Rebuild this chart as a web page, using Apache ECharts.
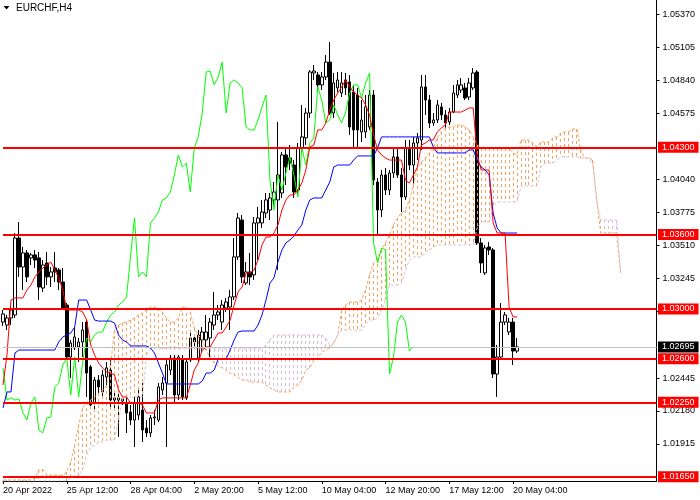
<!DOCTYPE html>
<html>
<head>
<meta charset="utf-8">
<script src="https://cdn.jsdelivr.net/npm/echarts@6/dist/echarts.min.js"></script>
<style>html,body{margin:0;padding:0;background:#fff}#c{width:700px;height:500px}</style>
</head>
<body>
<div id="c"></div>
<script>
// ---- data (EURCHF, H4) ----
const dateLabels = ['20 Apr 2022','25 Apr 12:00','28 Apr 04:00','2 May 20:00','5 May 12:00','10 May 04:00','12 May 20:00','17 May 12:00','20 May 04:00'];
const yTickValues = [1.05370,1.05105,1.04840,1.04575,1.04040,1.03775,1.03510,1.03245,1.02980,1.02445,1.02180,1.01915];
const levels = [1.04300,1.03600,1.03000,1.02600,1.02250,1.01650];
const lastPrice = 1.02695;
const chikouShift = 26;
const slotCount = 165;

// [open, close, low, high]
const ohlc = [
[1.02895,1.02960,1.02863,1.02992],[1.02871,1.02928,1.02831,1.02952],[1.02928,1.02992,1.02871,1.03032],[1.02952,1.03571,1.02928,1.03611],
[1.03571,1.03338,1.03258,1.03700],[1.03338,1.03451,1.03153,1.03499],[1.03451,1.03258,1.03217,1.03475],[1.03411,1.03435,1.03354,1.03451],
[1.03435,1.03394,1.03330,1.03475],[1.03411,1.03177,1.03072,1.03459],[1.03169,1.03354,1.03137,1.03394],[1.03370,1.03258,1.03193,1.03459],
[1.03258,1.03298,1.03177,1.03338],[1.03330,1.03298,1.03217,1.03459],[1.03314,1.03217,1.03153,1.03330],[1.03217,1.03008,1.02992,1.03330],
[1.03032,1.02614,1.02590,1.03048],[1.02614,1.02727,1.02445,1.02751],[1.02687,1.02775,1.02670,1.02855],[1.02695,1.02735,1.02574,1.02767],
[1.02735,1.02831,1.02614,1.02895],[1.02895,1.02485,1.02293,1.02911],[1.02534,1.02228,1.02204,1.02550],[1.02244,1.02429,1.02188,1.02453],
[1.02429,1.02373,1.02309,1.02469],[1.02333,1.02469,1.02285,1.02509],[1.02453,1.02526,1.02389,1.02574],[1.02509,1.02268,1.02212,1.02590],
[1.02268,1.02285,1.02204,1.02333],[1.02285,1.02268,1.01971,1.02325],[1.02260,1.02277,1.02228,1.02301],[1.02244,1.02164,1.02003,1.02285],
[1.02172,1.02107,1.02067,1.02228],[1.02107,1.02244,1.01890,1.02293],[1.02148,1.02293,1.02107,1.02349],[1.02188,1.02027,1.01930,1.02405],
[1.02043,1.02003,1.01971,1.02107],[1.02003,1.02124,1.01971,1.02148],[1.02124,1.02132,1.02067,1.02188],[1.02107,1.02373,1.02091,1.02405],
[1.02349,1.02405,1.02309,1.02453],[1.02405,1.02550,1.01890,1.02590],[1.02509,1.02606,1.02469,1.02630],[1.02606,1.02309,1.02252,1.02630],
[1.02309,1.02614,1.02268,1.02630],[1.02590,1.02293,1.02268,1.02630],[1.02285,1.02574,1.02268,1.02606],[1.02590,1.02767,1.02574,1.02831],
[1.02767,1.02735,1.02687,1.02791],[1.02606,1.02791,1.02574,1.02831],[1.02751,1.02815,1.02654,1.02855],[1.02751,1.02815,1.02670,1.02952],
[1.02767,1.02895,1.02614,1.02928],[1.02871,1.02952,1.02831,1.03137],[1.02952,1.02976,1.02911,1.03032],[1.02895,1.03032,1.02831,1.03072],
[1.03008,1.03056,1.02976,1.03089],[1.03016,1.03097,1.02831,1.03153],[1.03097,1.03419,1.03072,1.03571],[1.03419,1.03732,1.03394,1.03772],
[1.03716,1.03258,1.03209,1.03756],[1.03209,1.03298,1.03193,1.03378],[1.03298,1.03258,1.03193,1.03451],[1.03274,1.03692,1.03233,1.03740],
[1.03692,1.03732,1.03394,1.03821],[1.03692,1.03780,1.03652,1.03877],[1.03772,1.03877,1.03732,1.03933],[1.03796,1.03893,1.03716,1.03933],
[1.03877,1.03941,1.03837,1.04021],[1.03877,1.04078,1.03314,1.04504],[1.03933,1.04239,1.03893,1.04263],[1.04239,1.04142,1.03997,1.04295],
[1.04215,1.04174,1.04118,1.04319],[1.04158,1.03941,1.03893,1.04198],[1.03957,1.04295,1.03917,1.04335],[1.04295,1.04384,1.04263,1.04641],
[1.04376,1.04576,1.04319,1.04617],[1.04576,1.04906,1.04536,1.04922],[1.04898,1.04914,1.04842,1.04962],[1.04882,1.04802,1.04745,1.04906],
[1.04802,1.04866,1.04761,1.04906],[1.04866,1.04986,1.04842,1.05043],[1.04986,1.04576,1.04560,1.05147],[1.04576,1.04818,1.04536,1.04898],
[1.04778,1.04842,1.04745,1.04906],[1.04737,1.04818,1.04705,1.04906],[1.04842,1.04778,1.04721,1.04898],[1.04826,1.04464,1.04400,1.04882],
[1.04745,1.04440,1.04295,1.04802],[1.04721,1.04440,1.04303,1.04778],[1.04424,1.04520,1.04343,1.04681],[1.04424,1.04625,1.04376,1.04721],
[1.04464,1.04721,1.04440,1.04761],[1.04721,1.04037,1.03997,1.04761],[1.04021,1.03796,1.03595,1.04054],[1.03796,1.04078,1.03740,1.04118],
[1.04078,1.03957,1.03917,1.04134],[1.03957,1.04094,1.03917,1.04118],[1.04094,1.04223,1.04054,1.04295],[1.04223,1.04078,1.04054,1.04295],
[1.04078,1.03901,1.03780,1.04134],[1.03901,1.04295,1.03877,1.04359],[1.04295,1.04158,1.04118,1.04359],[1.04158,1.04335,1.03973,1.04384],
[1.04335,1.04376,1.04198,1.04416],[1.04359,1.04786,1.04279,1.04882],[1.04786,1.04681,1.04560,1.04882],[1.04681,1.04496,1.04456,1.04721],
[1.04496,1.04520,1.04472,1.04576],[1.04520,1.04641,1.04496,1.04681],[1.04625,1.04560,1.04520,1.04657],[1.04560,1.04496,1.04440,1.04600],
[1.04504,1.04584,1.04480,1.04617],[1.04584,1.04737,1.04576,1.04802],[1.04721,1.04802,1.04697,1.04842],[1.04761,1.04802,1.04737,1.04858],
[1.04778,1.04697,1.04681,1.04818],[1.04705,1.04818,1.04681,1.04858],[1.04778,1.04898,1.04761,1.04938],[1.04906,1.03531,1.03515,1.04922],
[1.03531,1.03370,1.03290,1.03571],[1.03290,1.03491,1.03274,1.03515],[1.03499,1.03475,1.03435,1.03539],[1.03475,1.02477,1.02445,1.03491],
[1.02477,1.02614,1.02293,1.02711],[1.02614,1.02895,1.02590,1.03048],[1.02895,1.02952,1.02871,1.02976],[1.02815,1.02895,1.02791,1.02928],
[1.02895,1.02662,1.02550,1.02928],[1.02662,1.02695,1.02646,1.02767]
];

const tenkan = [
1.02389,1.02630,1.03072,1.03089,1.03089,1.03089,1.03153,1.03193,1.03258,1.03298,
1.03330,1.03354,1.03378,1.03314,1.03250,1.03153,1.02992,1.02992,1.02992,1.02992,
1.02976,1.02911,1.02711,1.02630,1.02566,1.02526,1.02493,1.02485,1.02469,1.02349,
1.02293,1.02293,1.02244,1.02244,1.02244,1.02228,1.02164,1.02164,1.02164,1.02268,
1.02285,1.02285,1.02285,1.02285,1.02285,1.02285,1.02285,1.02389,1.02509,1.02566,
1.02670,1.02695,1.02695,1.02751,1.02807,1.02807,1.02855,1.02911,1.03032,1.03137,
1.03177,1.03290,1.03290,1.03314,1.03394,1.03515,1.03579,1.03579,1.03611,1.03676,
1.03796,1.03877,1.03917,1.03917,1.03957,1.04013,1.04118,1.04303,1.04319,1.04440,
1.04440,1.04496,1.04600,1.04681,1.04737,1.04786,1.04842,1.04786,1.04745,1.04721,
1.04697,1.04641,1.04560,1.04400,1.04279,1.04239,1.04215,1.04198,1.04198,1.04198,
1.04198,1.04037,1.04013,1.04078,1.04142,1.04319,1.04335,1.04359,1.04359,1.04424,
1.04456,1.04480,1.04584,1.04584,1.04584,1.04584,1.04600,1.04617,1.04617,1.04239,
1.04118,1.04118,1.04118,1.03692,1.03611,1.03611,1.03611,1.03016,1.02936,1.02936
];

const kijun = [
1.02204,1.02333,1.02333,1.02646,1.02670,1.02670,1.02670,1.02670,1.02670,1.02670,
1.02670,1.02670,1.02670,1.02670,1.02735,1.02775,1.02791,1.02807,1.02855,1.03072,
1.03072,1.03072,1.02992,1.02911,1.02903,1.02903,1.02903,1.02903,1.02887,1.02791,
1.02751,1.02735,1.02703,1.02703,1.02703,1.02703,1.02703,1.02687,1.02646,1.02566,
1.02485,1.02397,1.02397,1.02397,1.02397,1.02397,1.02397,1.02397,1.02397,1.02397,
1.02421,1.02485,1.02485,1.02509,1.02598,1.02598,1.02598,1.02670,1.02751,1.02815,
1.02823,1.02823,1.02823,1.02823,1.02871,1.02952,1.03072,1.03209,1.03250,1.03378,
1.03475,1.03531,1.03555,1.03587,1.03635,1.03676,1.03796,1.03877,1.03893,1.03893,
1.03893,1.03957,1.04021,1.04142,1.04158,1.04158,1.04158,1.04158,1.04198,1.04231,
1.04231,1.04231,1.04231,1.04231,1.04295,1.04384,1.04384,1.04384,1.04384,1.04384,
1.04384,1.04384,1.04384,1.04384,1.04384,1.04384,1.04384,1.04384,1.04303,1.04255,
1.04255,1.04255,1.04255,1.04255,1.04255,1.04255,1.04255,1.04279,1.04279,1.04198,
1.04142,1.04118,1.04078,1.03772,1.03652,1.03611,1.03611,1.03611,1.03611,1.03611
];

const spanA = [
1.01625,1.01625,1.01625,1.01625,1.01625,1.01625,1.01625,1.01625,1.01641,1.01705,
1.01713,1.01665,1.01665,1.01665,1.01665,1.01665,1.01689,1.01770,1.01906,1.02067,
1.02204,1.02252,1.02268,1.02293,1.02325,1.02349,1.02389,1.02550,1.02831,1.02871,
1.02887,1.02895,1.02911,1.02928,1.02952,1.02968,1.02992,1.03016,1.03016,1.03008,
1.02976,1.02928,1.02895,1.02895,1.02928,1.03016,1.03016,1.02976,1.02847,1.02791,
1.02751,1.02670,1.02606,1.02566,1.02542,1.02526,1.02509,1.02485,1.02469,1.02453,
1.02429,1.02429,1.02413,1.02413,1.02413,1.02413,1.02389,1.02365,1.02349,1.02333,
1.02333,1.02333,1.02333,1.02373,1.02389,1.02429,1.02509,1.02526,1.02590,1.02606,
1.02654,1.02670,1.02687,1.02727,1.02791,1.02992,1.03032,1.03056,1.03056,1.03056,
1.03072,1.03153,1.03274,1.03370,1.03411,1.03475,1.03531,1.03595,1.03676,1.03732,
1.03772,1.03796,1.03877,1.03997,1.04134,1.04182,1.04215,1.04255,1.04295,1.04376,
1.04424,1.04456,1.04464,1.04464,1.04480,1.04480,1.04464,1.04440,1.04384,1.04319,
1.04295,1.04295,1.04295,1.04295,1.04295,1.04295,1.04295,1.04295,1.04255,1.04239,
1.04359,1.04359,1.04359,1.04335,1.04303,1.04343,1.04343,1.04343,1.04376,1.04384,
1.04416,1.04424,1.04424,1.04448,1.04448,1.04279,1.04215,1.04215,1.04198,1.03877,
1.03611,1.03611,1.03611,1.03611,1.03611,1.03290
];

const spanB = [
1.01617,1.01617,1.01617,1.01617,1.01617,1.01617,1.01617,1.01617,1.01617,1.01617,
1.01617,1.01617,1.01617,1.01617,1.01617,1.01617,1.01617,1.01641,1.01657,1.01657,
1.01705,1.01826,1.01890,1.01906,1.01930,1.01930,1.01946,1.01946,1.01946,1.02107,
1.02285,1.02293,1.02293,1.02293,1.02293,1.02293,1.02630,1.02679,1.02679,1.02679,
1.02679,1.02679,1.02679,1.02679,1.02679,1.02679,1.02679,1.02679,1.02679,1.02679,
1.02679,1.02679,1.02679,1.02679,1.02679,1.02679,1.02679,1.02679,1.02679,1.02679,
1.02679,1.02679,1.02679,1.02679,1.02679,1.02679,1.02711,1.02751,1.02791,1.02791,
1.02791,1.02791,1.02791,1.02791,1.02791,1.02791,1.02791,1.02791,1.02791,1.02791,
1.02791,1.02767,1.02711,1.02727,1.02791,1.02831,1.02831,1.02831,1.02831,1.02831,
1.02831,1.02871,1.02911,1.02911,1.02928,1.02992,1.03072,1.03193,1.03193,1.03193,
1.03209,1.03314,1.03394,1.03419,1.03419,1.03419,1.03459,1.03475,1.03499,1.03515,
1.03515,1.03515,1.03515,1.03515,1.03515,1.03515,1.03515,1.03515,1.03515,1.03652,
1.03700,1.03700,1.03700,1.03821,1.03861,1.03861,1.03861,1.03861,1.03861,1.03861,
1.03989,1.03989,1.03989,1.03989,1.03989,1.04142,1.04174,1.04174,1.04174,1.04198,
1.04223,1.04223,1.04223,1.04223,1.04223,1.04215,1.04215,1.04215,1.04158,1.03877,
1.03716,1.03716,1.03716,1.03716,1.03716,1.03290
];

// ---- build chart ----
const FONT = '"Liberation Sans", Arial, sans-serif';
const slots = [];
for (let i = 0; i < slotCount; i++) slots.push(String(i));
const closes = ohlc.map(d => d[1]);
const chikou = closes.slice(chikouShift);
const isLabelSlot = i => i % 16 === 0 && i / 16 < dateLabels.length;

// Kumo hatching: a dotted vertical stroke per bar between Span A and Span B,
// positioned through the axes (api.coord); drawn as two path elements (bull / bear).
function renderKumo(params, api) {
  let dBull = '', dBear = '';
  for (let i = 0; i < spanA.length; i++) {
    const a = spanA[i], b = spanB[i];
    const pa = api.coord([i, a]);
    const pb = api.coord([i, b]);
    const x = Math.floor(pa[0]) + 0.5;
    const y0 = Math.round(Math.min(pa[1], pb[1]));
    const y1 = Math.round(Math.max(pa[1], pb[1]));
    let d = '';
    for (let y = y0; y < y1; y += 6) d += 'M' + x + ' ' + y + 'L' + x + ' ' + Math.min(y + 3, y1);
    if (a >= b) dBull += d; else dBear += d;
  }
  return {
    type: 'group',
    children: [
      {type: 'path', shape: {pathData: dBull || 'M0 0L0 0.01'}, style: {stroke: 'rgb(244,164,96)', fill: 'none', lineWidth: 1}},
      {type: 'path', shape: {pathData: dBear || 'M0 0L0 0.01'}, style: {stroke: 'rgb(216,191,216)', fill: 'none', lineWidth: 1}}
    ]
  };
}

const chart = echarts.init(document.getElementById('c'), null, {renderer: 'canvas'});
chart.setOption({
  animation: false,
  backgroundColor: '#ffffff',
  grid: {left: 0.5, right: 43.5, top: 0, bottom: 19, containLabel: false},
  xAxis: {
    type: 'category', data: slots, boundaryGap: false,
    axisLine: {show: true, lineStyle: {color: '#000', width: 1}},
    axisTick: {show: true, length: 3, interval: (i) => isLabelSlot(i), lineStyle: {color: '#000'}},
    axisLabel: {
      interval: (i) => isLabelSlot(i), align: 'left', margin: 5,
      color: '#000', fontSize: 9, fontFamily: FONT,
      formatter: (v) => dateLabels[Number(v) / 16]
    },
    splitLine: {show: false}
  },
  yAxis: {
    type: 'value', position: 'right', min: 1.016168, max: 1.05485,
    axisLine: {show: true, lineStyle: {color: '#000', width: 1}},
    axisTick: {show: true, length: 3, customValues: yTickValues, lineStyle: {color: '#000'}},
    axisLabel: {customValues: yTickValues, margin: 6, color: '#000', fontSize: 9, fontFamily: FONT,
      formatter: (v) => v.toFixed(5)},
    splitLine: {show: false}
  },
  graphic: [
    {type: 'polygon', shape: {points: [[3.5, 6], [9.5, 6], [6.5, 9.5]]}, style: {fill: '#000'}},
    {type: 'text', x: 16, y: 3, style: {text: 'EURCHF,H4', fontSize: 10, fontFamily: FONT, fill: '#000'}}
  ],
  series: [
    {
      name: 'price', type: 'line', data: [], z: 0.5, silent: true,
      markLine: {
        silent: true, symbol: 'none', animation: false, precision: 5,
        lineStyle: {color: '#C0C0C0', width: 1, type: 'solid'},
        label: {show: true, position: 'end', distance: 1.5, formatter: (p) => Number(p.value).toFixed(5),
          color: '#fff', backgroundColor: '#000', padding: [1, 4, 0, 4], fontSize: 9, lineHeight: 10, fontFamily: FONT},
        data: [{yAxis: lastPrice}]
      }
    },
    {
      name: 'candles', type: 'candlestick', data: ohlc, barWidth: 3, z: 1,
      itemStyle: {color: '#ffffff', color0: '#000000', borderColor: '#000000', borderColor0: '#000000', borderWidth: 1}
    },
    {name: 'kumo', type: 'custom', data: [[0, spanA[0]]], z: 2, silent: true, clip: false,
      encode: {x: 0, y: 1}, renderItem: renderKumo},
    {name: 'spanA', type: 'line', data: spanA, symbol: 'none', z: 3, silent: true,
      lineStyle: {color: '#F4A460', width: 1, type: [3, 2]}},
    {name: 'spanB', type: 'line', data: spanB, symbol: 'none', z: 3, silent: true,
      lineStyle: {color: '#D8BFD8', width: 1, type: [3, 2]}},
    {name: 'chikou', type: 'line', data: chikou, symbol: 'none', z: 4, silent: true,
      lineStyle: {color: '#00FF00', width: 1}},
    {name: 'kijun', type: 'line', data: kijun, symbol: 'none', z: 4, silent: true,
      lineStyle: {color: '#0000FF', width: 1}},
    {name: 'tenkan', type: 'line', data: tenkan, symbol: 'none', z: 4, silent: true,
      lineStyle: {color: '#FF0000', width: 1}},
    {
      name: 'levels', type: 'line', data: [], z: 10, silent: true,
      markLine: {
        silent: true, symbol: 'none', animation: false, precision: 5,
        lineStyle: {color: '#FF0000', width: 2, type: 'solid'},
        label: {show: true, position: 'end', distance: 1.5, formatter: (p) => Number(p.value).toFixed(5),
          color: '#fff', backgroundColor: '#FF0000', padding: [1, 4, 0, 4], fontSize: 9, lineHeight: 10, fontFamily: FONT},
        data: levels.map(v => ({yAxis: v}))
      }
    }
  ]
});
</script>
</body>
</html>
